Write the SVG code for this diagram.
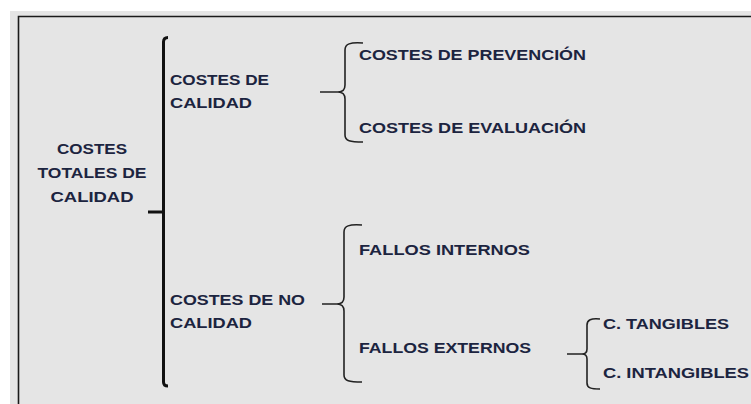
<svg xmlns="http://www.w3.org/2000/svg" width="751" height="404" viewBox="0 0 751 404">
<style>
.t{font-family:"Liberation Sans",Arial,sans-serif;font-weight:bold;font-size:15px;fill:#1c2440}
.c{text-anchor:middle}
.big{fill:none;stroke:#111;stroke-width:3;stroke-linecap:butt}
.br{fill:none;stroke:#222;stroke-width:1.6}
</style>
<rect x="0" y="0" width="751" height="404" fill="#ffffff"/>
<rect x="10" y="11" width="741" height="393" fill="#e5e5e5"/>
<path d="M18.5,404 V16.5 H751" fill="none" stroke="#1a1a1a" stroke-width="1.6"/>
<g id="connectors">
  <path class="big" d="M168,37.5 Q163.5,37.5 163.5,42 V382 Q163.5,386 168,386"/>
  <path class="big" d="M148,212 H163"/>
  <path class="br" d="M363,43 C350,42 345,44 345,50 V85 C345,90 343,92 338,92 H320 M338,92 C343,92 345,94 345,99 V135 C345,141 350,142 363,142"/>
  <path class="br" d="M362,225 C349,224 344,226 344,232 V297 C344,302 342,304 337,304 H322 M337,304 C342,304 344,306 344,311 V375 C344,381 349,382 362,382"/>
  <path class="br" d="M600,319 C591,318 587,320 587,325 V349 C587,352 585,354 582,354 H567 M582,354 C585,354 587,356 587,359 V383 C587,388 591,389 600,389"/>
</g>
<g id="n-totales">
  <text class="t c" x="92" y="154" textLength="70" lengthAdjust="spacingAndGlyphs">COSTES</text>
  <text class="t c" x="92" y="178" textLength="109" lengthAdjust="spacingAndGlyphs">TOTALES DE</text>
  <text class="t c" x="92" y="202" textLength="83" lengthAdjust="spacingAndGlyphs">CALIDAD</text>
</g>
<g id="n-calidad">
  <text class="t" x="170" y="85" textLength="99" lengthAdjust="spacingAndGlyphs">COSTES DE</text>
  <text class="t" x="170" y="108" textLength="82" lengthAdjust="spacingAndGlyphs">CALIDAD</text>
</g>
<g id="n-nocalidad">
  <text class="t" x="170" y="305" textLength="135" lengthAdjust="spacingAndGlyphs">COSTES DE NO</text>
  <text class="t" x="170" y="328" textLength="82" lengthAdjust="spacingAndGlyphs">CALIDAD</text>
</g>
<g id="n-prevencion">
  <text class="t" x="359" y="60" textLength="227" lengthAdjust="spacingAndGlyphs">COSTES DE PREVENCIÓN</text>
</g>
<g id="n-evaluacion">
  <text class="t" x="359" y="133" textLength="227" lengthAdjust="spacingAndGlyphs">COSTES DE EVALUACIÓN</text>
</g>
<g id="n-internos">
  <text class="t" x="359" y="255" textLength="171" lengthAdjust="spacingAndGlyphs">FALLOS INTERNOS</text>
</g>
<g id="n-externos">
  <text class="t" x="359" y="353" textLength="172" lengthAdjust="spacingAndGlyphs">FALLOS EXTERNOS</text>
</g>
<g id="n-tangibles">
  <text class="t" x="603" y="329" textLength="126" lengthAdjust="spacingAndGlyphs">C. TANGIBLES</text>
</g>
<g id="n-intangibles">
  <text class="t" x="603" y="378" textLength="146" lengthAdjust="spacingAndGlyphs">C. INTANGIBLES</text>
</g>
</svg>
